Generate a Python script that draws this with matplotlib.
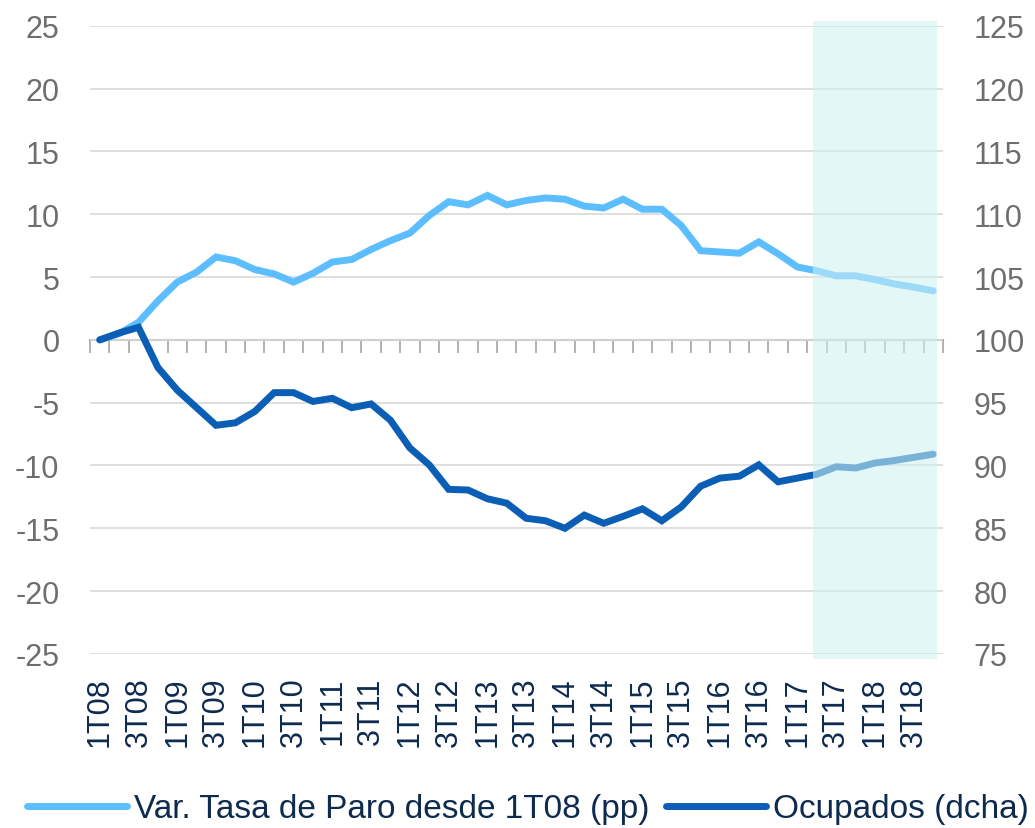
import numpy as np
from matplotlib import pyplot as plt

plt.rcParams['font.family'] = ['Liberation Sans', 'DejaVu Sans']
plt.rcParams['axes.unicode_minus'] = False

# trimestres 1T08 .. 4T18
n_quarters = 44
tick_labels = ['1T08', '3T08', '1T09', '3T09', '1T10', '3T10', '1T11', '3T11',
               '1T12', '3T12', '1T13', '3T13', '1T14', '3T14', '1T15', '3T15',
               '1T16', '3T16', '1T17', '3T17', '1T18', '3T18']

# variacion tasa de paro desde 1T08 (pp), eje izquierdo
paro = [0.0, 0.5, 1.4, 3.1, 4.6, 5.4, 6.6, 6.3, 5.6, 5.25, 4.6, 5.3, 6.2, 6.4,
        7.2, 7.9, 8.5, 9.9, 11.0, 10.75, 11.5, 10.75, 11.1, 11.3, 11.2, 10.65,
        10.5, 11.2, 10.4, 10.4, 9.1, 7.1, 7.0, 6.9, 7.8, 6.85, 5.8, 5.5, 5.1,
        5.1, 4.8, 4.45, 4.2, 3.9]
# ocupados (1T08 = 100), eje derecho
ocupados = [100.0, 100.55, 101.0, 97.8, 96.0, 94.6, 93.2, 93.4, 94.3, 95.8,
            95.8, 95.1, 95.35, 94.6, 94.9, 93.6, 91.4, 90.05, 88.1, 88.05,
            87.35, 87.0, 85.8, 85.6, 85.0, 86.05, 85.4, 85.95, 86.55, 85.6,
            86.7, 88.35, 89.0, 89.15, 90.05, 88.7, 89.0, 89.3, 89.9, 89.8,
            90.2, 90.4, 90.65, 90.9]
# zona de prevision
prev_start, prev_end = 36.8, 43.2

c_light = '#5CBEFF'
c_dark = '#0B5EB5'
c_grey = '#6E6E6E'
c_navy = '#0D2A4F'
fs = 22
lw = 5

x = np.arange(n_quarters)

fig = plt.figure(figsize=(10.35, 8.29), dpi=100)
ax = fig.add_axes([0.087, 0.21, 0.824, 0.7576])
ax2 = ax.twinx()

ax.plot(x, paro, color=c_light, lw=lw, solid_capstyle='round', solid_joinstyle='miter', zorder=3)
ax2.plot(x, ocupados, color=c_dark, lw=lw, solid_capstyle='round', solid_joinstyle='miter', zorder=3)

ax.set_xlim(-0.5, n_quarters - 0.5)
ax.set_ylim(-25, 25)
ax2.set_ylim(75, 125)
ax.set_yticks(np.arange(-25, 26, 5))
ax2.set_yticks(np.arange(75, 126, 5))
ax.yaxis.grid(True, color='#D9D9D9', lw=1.2)
ax.set_axisbelow(True)

for a in (ax, ax2):
    for s in a.spines.values():
        s.set_visible(False)
ax.tick_params(axis='y', length=0, pad=22, labelsize=fs, labelcolor=c_grey)
ax2.tick_params(axis='y', length=0, pad=22, labelsize=fs, labelcolor=c_grey)

# etiquetas del eje x abajo
ax.set_xticks(x[::2])
ax.set_xticklabels(tick_labels, rotation=90, fontsize=fs, color=c_navy)
ax.tick_params(axis='x', length=0, pad=16)

# eje x cruzando en cero con marcas entre categorias
sec = ax.secondary_xaxis(0.5)
sec.set_xticks(np.arange(-0.5, n_quarters, 1))
sec.set_xticklabels([])
sec.xaxis.set_ticks_position('bottom')
sec.tick_params(axis='x', direction='out', length=9, width=1.2, color='#A6A6A6',
                labelbottom=False, labeltop=False)
for s in sec.spines.values():
    s.set_color('#A6A6A6')
    s.set_linewidth(1.5)

# sombreado de prevision encima de las lineas
ax2.axvspan(prev_start, prev_end, ymin=-0.008, ymax=1.008, color='#CEF1F1', alpha=0.57,
            lw=0, zorder=5, clip_on=False)

handles = [plt.Line2D([], [], color=c_light, lw=lw, solid_capstyle='round'),
           plt.Line2D([], [], color=c_dark, lw=lw, solid_capstyle='round')]
fig.legend(handles, ['Var. Tasa de Paro desde 1T08 (pp)', 'Ocupados (dcha)'],
           loc='center', bbox_to_anchor=(0.51, 0.023), ncol=2, frameon=False,
           fontsize=24, labelcolor=c_navy, handlelength=3.0, handletextpad=0.2,
           columnspacing=0.5, borderaxespad=0)

fig.savefig('out.png', dpi=100)
